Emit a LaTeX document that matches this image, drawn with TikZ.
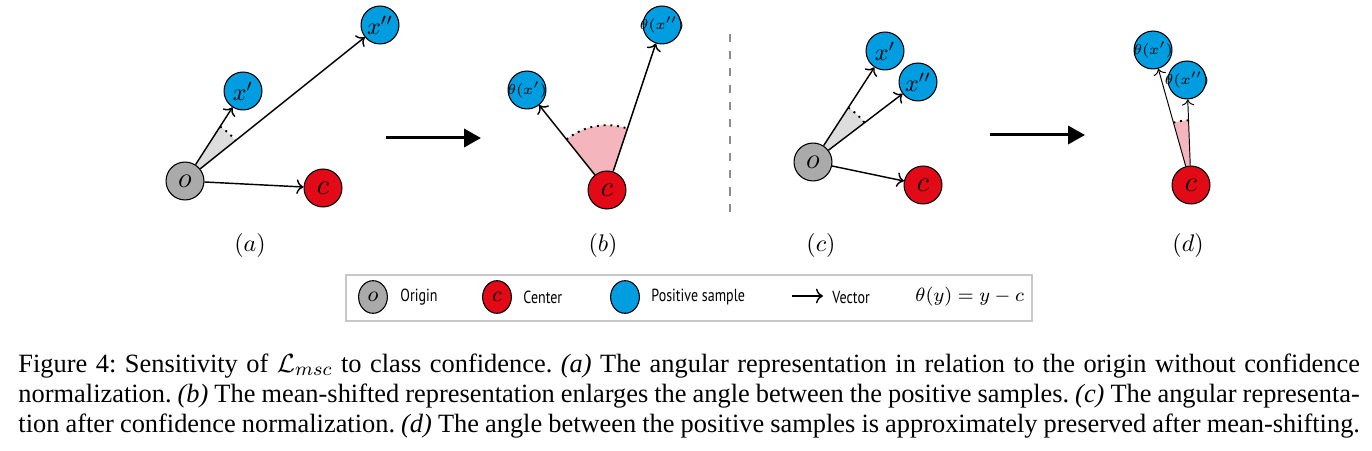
\documentclass[tikz,border=0pt]{standalone}
\usepackage{fontspec}
\setmainfont{Liberation Serif}
\newfontfamily\legendfont[FakeStretch=0.8]{PT Sans}
\usetikzlibrary{arrows.meta,calc,backgrounds,shapes.geometric}

\definecolor{sampleblue}{RGB}{0,158,224}
\definecolor{centerred}{RGB}{226,10,22}
\definecolor{origingray}{RGB}{170,170,170}
\definecolor{wedgegray}{RGB}{221,221,221}
\definecolor{wedgepink}{RGB}{244,182,188}

% angle between two samples, seen from a centre node
\newcommand{\angwedge}[4]{%
  \fill[#4] let \p1=($(#2)-(#1)$), \p2=($(#3)-(#1)$),
    \n1={atan2(\y1,\x1)}, \n2={atan2(\y2,\x2)} in
    (#1.center) -- ++(\n1:27pt) arc[start angle=\n1, end angle=\n2, radius=27pt] -- cycle;
  \draw[dotted, line width=0.8pt] let \p1=($(#2)-(#1)$), \p2=($(#3)-(#1)$),
    \n1={atan2(\y1,\x1)}, \n2={atan2(\y2,\x2)} in
    ($(#1.center)+(\n1:27pt)$) arc[start angle=\n1, end angle=\n2, radius=27pt];
}
\newcommand{\capline}[1]{\makebox[559pt][s]{#1}}
\frenchspacing

\begin{document}
\begin{tikzpicture}[
    x=0.4167pt, y=-0.4167pt,
    circ/.style = {circle, draw, line width=0.45pt, minimum size=15.8pt, inner sep=0pt},
    orig/.style = {circ, fill=origingray, font=\large},
    ctr/.style = {circ, fill=centerred, font=\large},
    samp/.style = {circ, fill=sampleblue},
    thsamp/.style = {circ, fill=sampleblue, inner sep=-3pt, font=\fontsize{6}{7}\selectfont},
    vec/.style = {draw, ->, semithick},
    bigarrow/.style = {draw, -{Triangle[length=7pt, width=7.5pt]}, line width=1.25pt},
    sublabel/.style = {font=\normalsize},
    legdot/.style = {ellipse, draw, line width=0.45pt, minimum width=12pt, minimum height=13.6pt, inner sep=0pt, font=\small},
    legtext/.style = {anchor=west, inner sep=0pt, font=\legendfont\fontsize{7.3}{8}\selectfont},
    capline/.style = {anchor=base west, inner sep=0pt, font=\fontsize{11}{13}\selectfont}
]
    \useasboundingbox (0,0) rectangle (1372,451);

    % (a) before normalization
    \node[orig] (oa) at (185,181) {$o$};
    \node[samp] (xa1) at (243,91) {$x'$};
    \node[samp] (xa2) at (380,25) {$x''$};
    \node[ctr] (ca) at (323,188) {$c$};
    \path[vec] (oa) -- (xa1);
    \path[vec] (oa) -- (xa2);
    \path[vec] (oa) -- (ca);

    % (b) mean-shifted
    \node[ctr] (cb) at (607,190) {$c$};
    \node[thsamp] (xb1) at (527,90) {$\theta(x')$};
    \node[thsamp] (xb2) at (662,25) {$\theta(x'')$};
    \path[vec] (cb) -- (xb1);
    \path[vec] (cb) -- (xb2);

    % (c) after normalization
    \node[orig] (oc) at (813,162) {$o$};
    \node[samp] (xc1) at (885,51) {$x'$};
    \node[samp] (xc2) at (918,82) {$x''$};
    \node[ctr] (cc) at (923,185) {$c$};
    \path[vec] (oc) -- (xc1);
    \path[vec] (oc) -- (xc2);
    \path[vec] (oc) -- (cc);

    % (d) mean-shifted
    \node[ctr] (cd) at (1191,185) {$c$};
    \node[thsamp] (xd1) at (1153,50) {$\theta(x')$};
    \node[thsamp] (xd2) at (1187,80) {$\theta(x'')$};
    \path[vec, thin] (cd) -- (xd1);
    \path[vec, thin] (cd) -- (xd2);

    \begin{scope}[on background layer]
        \angwedge{oa}{xa1}{xa2}{wedgegray}
        \angwedge{cb}{xb1}{xb2}{wedgepink}
        \angwedge{oc}{xc1}{xc2}{wedgegray}
        \angwedge{cd}{xd1}{xd2}{wedgepink}
    \end{scope}

    \coordinate (s1) at (386,138);
    \coordinate (e1) at (481,138);
    \coordinate (s2) at (990,135);
    \coordinate (e2) at (1085,135);
    \path[bigarrow] (s1) -- (e1);
    \path[bigarrow] (s2) -- (e2);

    \coordinate (sepTop) at (730,34);
    \coordinate (sepBot) at (730,212);
    \draw[gray!90, line width=0.8pt, dash pattern=on 3.4pt off 3.7pt] (sepTop) -- (sepBot);

    \node[sublabel] (la) at (250,245) {$(a)$};
    \node[sublabel] (lb) at (603,245) {$(b)$};
    \node[sublabel] (lc) at (821,245) {$(c)$};
    \node[sublabel] (ld) at (1188,245) {$(d)$};

    % legend
    \draw[black!22, line width=0.6pt, fill=white] (346,275) rectangle (1032,321);
    \node[legdot, fill=origingray] (lo) at (373,297) {$o$};
    \node[legtext] (to) at (400,297) {Origin};
    \node[legdot, fill=centerred] (lcn) at (497,297) {$c$};
    \node[legtext] (tc) at (523,297) {Center};
    \node[legdot, fill=sampleblue] (lp) at (625,297) {};
    \node[legtext] (tp) at (651,297) {Positive sample};
    \coordinate (va) at (792,296);
    \coordinate (vb) at (823,296);
    \path[vec] (va) -- (vb);
    \node[legtext] (tv) at (832,297) {Vector};
    \node[anchor=west, inner sep=0pt, font=\fontsize{8.5}{10}\selectfont] (tt) at (915,297) {$\theta(y) = y - c$};

    % caption
    \node[capline] (cap1) at (18,372) {\capline{Figure 4: Sensitivity of $\mathcal{L}_{msc}$ to class confidence. \textit{(a)} The angular representation in relation to the origin without confidence}};
    \node[capline] (cap2) at (18,402) {\capline{normalization. \textit{(b)} The mean-shifted representation enlarges the angle between the positive samples. \textit{(c)} The angular representa-}};
    \node[capline] (cap3) at (18,432) {\capline{tion after confidence normalization. \textit{(d)} The angle between the positive samples is approximately preserved after mean-shifting.}};
\end{tikzpicture}
\end{document}
